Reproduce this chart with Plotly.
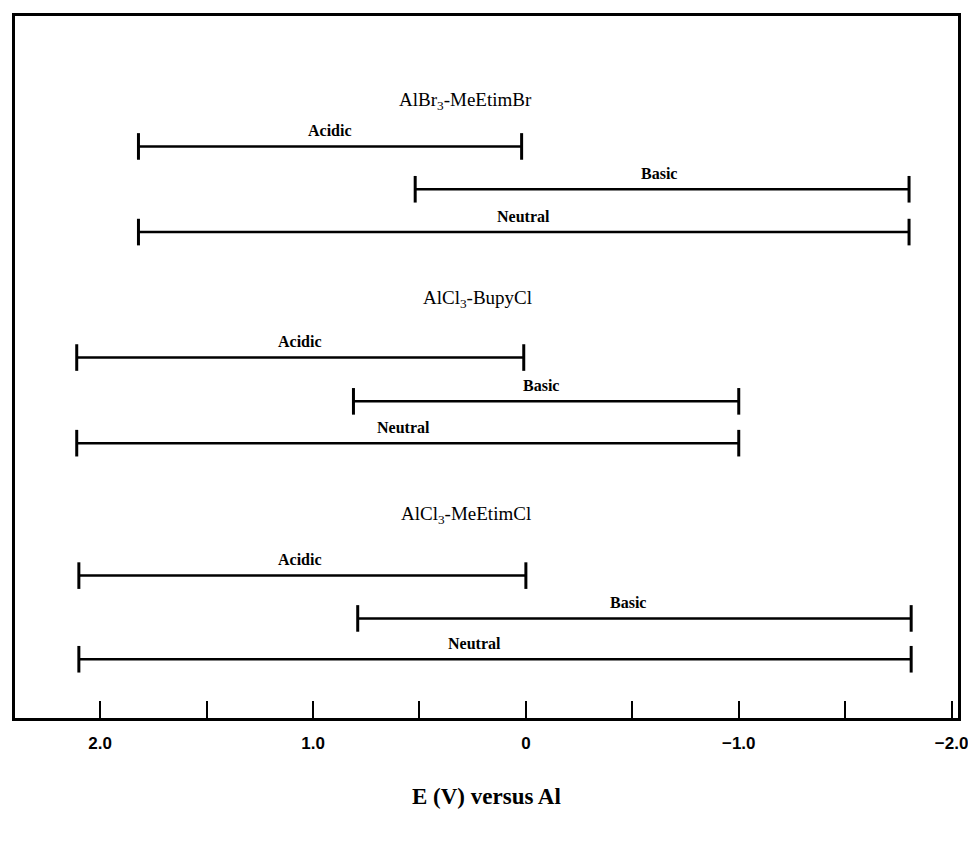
import plotly.graph_objects as go

# ---- data (potential windows, V vs Al) ----
systems = ["AlBr<sub>3</sub>-MeEtimBr", "AlCl<sub>3</sub>-BupyCl", "AlCl<sub>3</sub>-MeEtimCl"]
melt_types = ["Acidic", "Basic", "Neutral"]
anodic_limit = [
    [1.82, 0.52, 1.82],   # AlBr3-MeEtimBr
    [2.11, 0.81, 2.11],   # AlCl3-BupyCl
    [2.10, 0.79, 2.10],   # AlCl3-MeEtimCl
]
cathodic_limit = [
    [0.02, -1.80, -1.80],
    [0.01, -1.00, -1.00],
    [0.00, -1.81, -1.81],
]
tick_vals = [2.0, 1.0, 0.0, -1.0, -2.0]
tick_text = ["2.0", "1.0", "0", "\u22121.0", "\u22122.0"]
minor_vals = [1.5, 0.5, -0.5, -1.5]

# ---- layout positions (pixels from top of plot area) ----
title_rows = [85, 284, 501]
bar_rows = [[131, 174, 217], [343, 387, 429], [562, 605, 646]]
label_gap = 16
label_shift_px = [[0, -3, 0], [0, -5, -4], [-2, -6, -21]]

X0, X1 = 2.40, -2.03
FIG_W, FIG_H = 968, 826
ML, MR, MT, MB = 7, 18, 5, 116
PLOT_W = FIG_W - ML - MR
px_per_unit = PLOT_W / (X0 - X1)

fig = go.Figure()
annotations = []
for g, sys_name in enumerate(systems):
    for k, mt in enumerate(melt_types):
        a, c = anodic_limit[g][k], cathodic_limit[g][k]
        y = bar_rows[g][k]
        fig.add_trace(go.Scatter(
            x=[a, c], y=[y, y], mode="lines+markers",
            line=dict(color="black", width=2.5),
            marker=dict(symbol="line-ns", size=19, line=dict(width=3, color="black")),
            hoverinfo="x", showlegend=False))
        mid = (a + c) / 2 - label_shift_px[g][k] / px_per_unit
        annotations.append(dict(
            x=mid, y=y - label_gap, xref="x", yref="y", text="<b>" + mt + "</b>",
            showarrow=False, font=dict(family="Liberation Serif", size=16, color="black"),
            yanchor="middle"))
    annotations.append(dict(
        x=0.478 if g != 1 else 0.49, y=title_rows[g], xref="paper", yref="y", text=sys_name,
        showarrow=False, font=dict(family="Liberation Serif", size=19, color="black"),
        yanchor="middle"))

annotations.append(dict(
    x=0.5, y=-0.112, xref="paper", yref="paper", text="<b>E (V) versus Al</b>",
    showarrow=False, font=dict(family="Liberation Serif", size=23, color="black"),
    yanchor="middle"))

fig.update_layout(
    width=FIG_W, height=FIG_H,
    margin=dict(l=ML, r=MR, t=MT, b=MB),
    paper_bgcolor="white", plot_bgcolor="white",
    annotations=annotations,
    xaxis=dict(
        range=[X0, X1], showgrid=False, zeroline=False,
        showline=True, mirror=True, linecolor="black", linewidth=2.5,
        ticks="inside", ticklen=17, tickwidth=2, tickcolor="black",
        tickvals=tick_vals, ticktext=tick_text,
        tickfont=dict(family="Liberation Sans", size=17, color="black", weight="bold"),
        ticklabelstandoff=8, ticklabeloverflow="allow",
        minor=dict(tickvals=minor_vals, ticks="inside", ticklen=17, tickwidth=2, tickcolor="black"),
    ),
    yaxis=dict(
        range=[705, 0], showgrid=False, zeroline=False, showticklabels=False,
        showline=True, mirror=True, linecolor="black", linewidth=2.5, ticks="",
    ),
)

fig.write_html("out.html")
